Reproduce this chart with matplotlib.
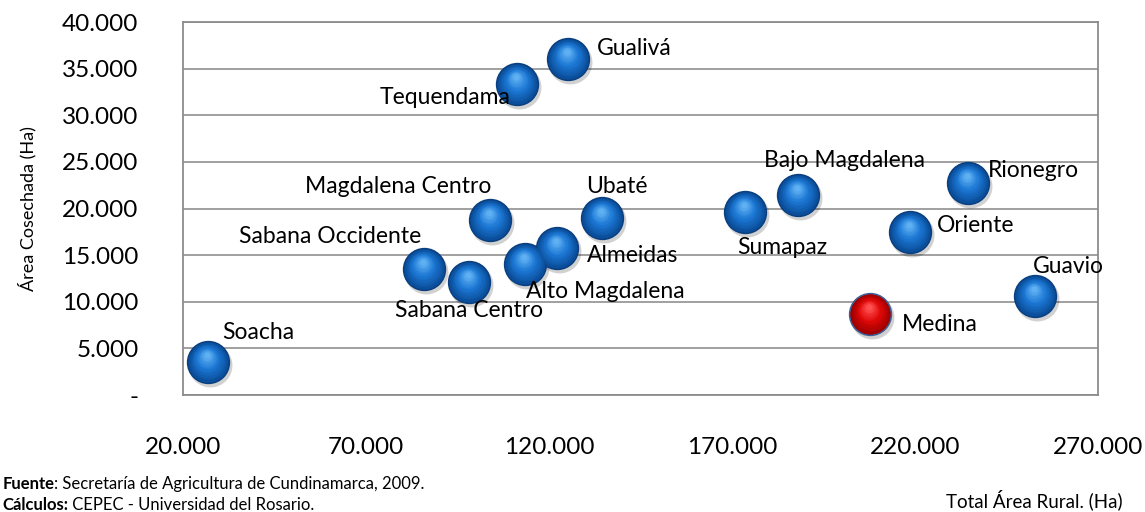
import matplotlib.pyplot as plt
import matplotlib.transforms as mtransforms
from matplotlib.colors import to_rgb
from matplotlib.ticker import FuncFormatter
import numpy as np

# data
regiones = ['Soacha', 'Sabana Occidente', 'Sabana Centro', 'Alto Magdalena', 'Almeidas',
            'Magdalena Centro', 'Ubaté', 'Tequendama', 'Gualivá', 'Sumapaz',
            'Bajo Magdalena', 'Oriente', 'Rionegro', 'Guavio', 'Medina']
area_rural = [26800, 85800, 98100, 113400, 122200,
              103900, 134500, 111300, 125200, 173500,
              188000, 218600, 234500, 252800, 207700]
area_cosechada = [3540, 13520, 12120, 14060, 15770,
                  18780, 18990, 33370, 36050, 19640,
                  21460, 17490, 22750, 10620, 8690]
destacado = 'Medina'

# label offsets in pixels (label centre relative to bubble)
offsets = {'Soacha': (50, 29), 'Sabana Occidente': (-94, 32), 'Sabana Centro': (0, -29),
           'Alto Magdalena': (80, -28), 'Almeidas': (76, -8), 'Magdalena Centro': (-92, 33),
           'Ubaté': (15, 31), 'Tequendama': (-72, -14), 'Gualivá': (66, 10),
           'Sumapaz': (37, -36), 'Bajo Magdalena': (47, 34), 'Oriente': (66, 6),
           'Rionegro': (65, 12), 'Guavio': (33, 29), 'Medina': (70, -11)}

plt.rcParams['font.family'] = ['Lato', 'DejaVu Sans']

fig = plt.figure(figsize=(11.45, 5.12), dpi=100)
ax = fig.add_axes([0.1598, 0.2285, 0.7992, 0.7285])

x = np.array(area_rural)
y = np.array(area_cosechada)
is_red = np.array([r == destacado for r in regiones])


def bubbles(mask, dark, mid, light, edge):
    xs, ys = x[mask], y[mask]
    # soft shadow
    sh = mtransforms.offset_copy(ax.transData, fig=fig, x=2, y=-3, units='dots')
    ax.scatter(xs, ys, s=1000, color='#000000', alpha=0.18, linewidths=0,
               transform=sh, zorder=3)
    ax.scatter(xs, ys, s=900, color=dark, edgecolors=edge, linewidths=1.2, zorder=4)
    # fake 3d shading: stacked circles, lighter and higher
    c0, c1, c2 = (np.array(to_rgb(c)) for c in (dark, mid, light))
    n = 12
    for i in range(n):
        t = i / (n - 1)
        col = c0 + (c1 - c0) * t * 2 if t < 0.5 else c1 + (c2 - c1) * (t - 0.5) * 2
        size = 820 * (1 - 0.85 * t) ** 2
        tr = mtransforms.offset_copy(ax.transData, fig=fig, x=-1 * t, y=7 * t, units='dots')
        ax.scatter(xs, ys, s=size, color=col, linewidths=0, transform=tr, zorder=5)


bubbles(~is_red, '#0b4f9c', '#1c78d4', '#5fb0f2', '#0a3f80')
bubbles(is_red, '#a00000', '#e00808', '#ff5050', '#3d5f95')

for r, xi, yi in zip(regiones, x, y):
    dx, dy = offsets[r]
    ax.annotate(r, (xi, yi), xytext=(dx, dy), textcoords='offset pixels',
                ha='center', va='center', fontsize=16.5, color='#000000', zorder=6)

ax.set_xlim(20000, 270000)
ax.set_ylim(0, 40000)
ax.set_xticks(np.arange(20000, 270001, 50000))
ax.set_yticks(np.arange(0, 40001, 5000))


def miles(v, pos):
    if v == 0:
        return '-'
    return f'{v:,.0f}'.replace(',', '.')


ax.xaxis.set_major_formatter(FuncFormatter(miles))
ax.yaxis.set_major_formatter(FuncFormatter(miles))
ax.tick_params(axis='both', length=0, labelsize=17.5)
ax.tick_params(axis='x', pad=30)
ax.tick_params(axis='y', pad=32)
ax.grid(axis='y', color='#999999', linewidth=1.3)
ax.set_axisbelow(True)
for s in ax.spines.values():
    s.set_color('#8c8c8c')
    s.set_linewidth(1.3)

ax.set_ylabel('Área Cosechada (Ha)', fontsize=13)
ax.yaxis.set_label_coords(-0.16, 0.5)

# footnotes: bold lead-in followed by normal text
t1 = fig.text(0.002, 1 - 484 / 512, 'Fuente', fontsize=12, fontweight='bold', va='center')
t2 = fig.text(0.002, 1 - 505 / 512, 'Cálculos:', fontsize=12, fontweight='bold', va='center')
ax.annotate(': Secretaría de Agricultura de Cundinamarca, 2009.', xy=(1, 0.5),
            xycoords=t1, va='center', ha='left', fontsize=12, annotation_clip=False)
ax.annotate(' CEPEC - Universidad del Rosario.', xy=(1, 0.5), xycoords=t2,
            va='center', ha='left', fontsize=12, annotation_clip=False)

fig.text(1123 / 1145, 1 - 500 / 512, 'Total Área Rural. (Ha)', fontsize=13.5,
         ha='right', va='center')

fig.savefig('out.png', dpi=100)
